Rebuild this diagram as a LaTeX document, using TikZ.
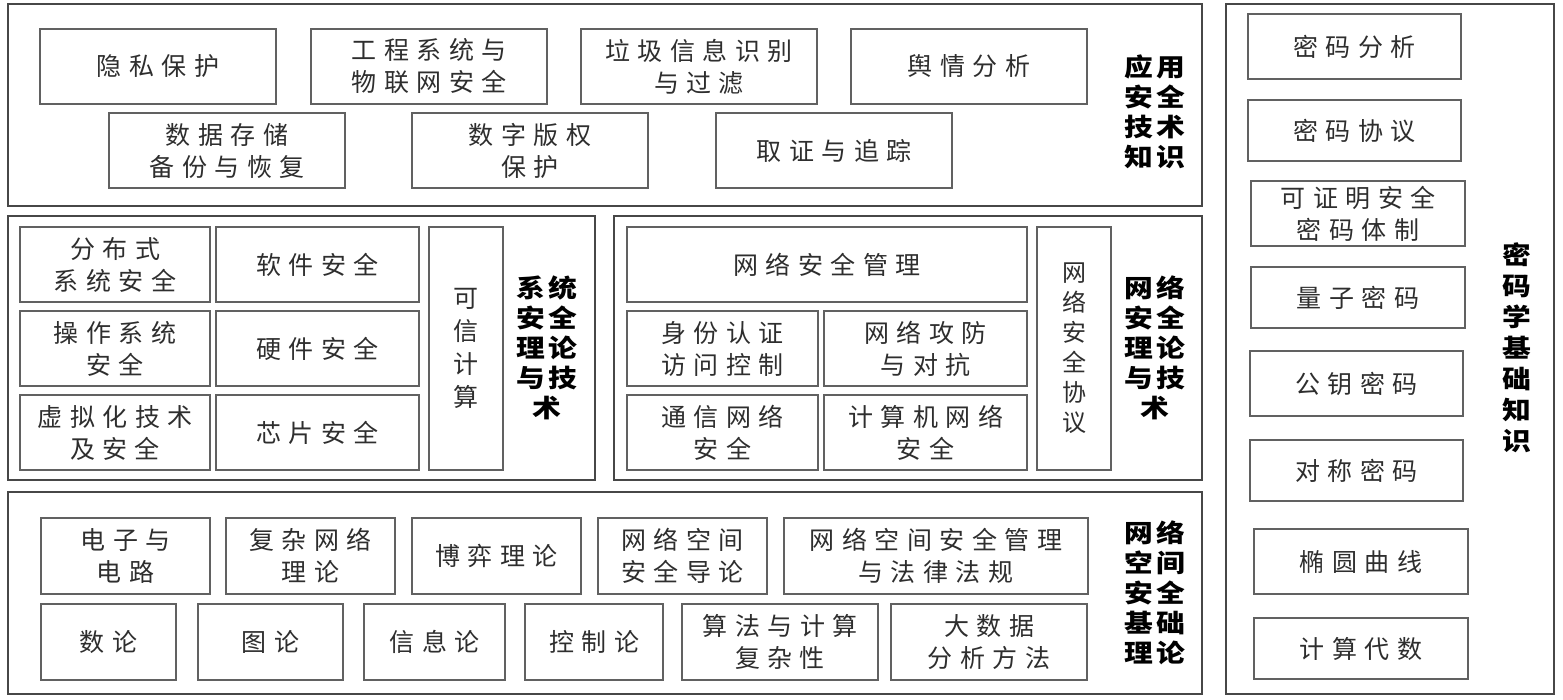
\documentclass[tikz,border=0pt]{standalone}
\usepackage{fontspec}
\setmainfont{Noto Sans CJK SC}[LetterSpace=30]
\newfontfamily\labelfont{Noto Sans CJK SC}[FakeStretch=1.15, LetterSpace=14]
\usepackage{tikz}
\usetikzlibrary{positioning}

\begin{document}
\begin{tikzpicture}[x=1pt, y=-1pt, node distance=34pt,
    main/.style = {draw=black!62, line width=1.5pt, inner sep=0pt, outer sep=0pt, align=center, text=black!82,
                   font=\fontsize{25}{32}\selectfont},
    frame/.style = {draw=black!72, line width=1.8pt},
    title/.style = {align=center, inner sep=0pt, font=\labelfont\fontsize{25}{30}\bfseries\selectfont}]
    \useasboundingbox[fill=white] (0,0) rectangle (1563,699);

    % outer frames
    \draw[frame] (8,4) rectangle (1202,206);
    \draw[frame] (8,216) rectangle (595,480);
    \draw[frame] (614,216) rectangle (1202,480);
    \draw[frame] (8,492) rectangle (1202,694);
    \draw[frame] (1226,4) rectangle (1554,694);

    % application layer
    \node[main, minimum width=236pt, minimum height=75pt] (priv) at (158,66.5) {隐私保护};
    \node[main, minimum width=236pt, minimum height=75pt] (iot) [right=35pt of priv] {工程系统与\\物联网安全};
    \node[main, minimum width=236pt, minimum height=75pt] (spam) [right=of iot] {垃圾信息识别\\与过滤};
    \node[main, minimum width=236pt, minimum height=75pt] (opinion) [right=of spam] {舆情分析};
    \node[main, minimum width=236pt, minimum height=75pt] (backup) at (227,150.5) {数据存储\\备份与恢复};
    \node[main, minimum width=236pt, minimum height=75pt] (drm) [right=67pt of backup] {数字版权\\保护};
    \node[main, minimum width=236pt, minimum height=75pt] (forensic) [right=68pt of drm] {取证与追踪};
    \node[title] (applabel) at (1155,112) {应用\\安全\\技术\\知识};

    % system layer
    \node[main, minimum width=190pt, minimum height=75pt] (dist) at (115,264.5) {分布式\\系统安全};
    \node[main, minimum width=190pt, minimum height=75pt] (os) [below=9pt of dist] {操作系统\\安全};
    \node[main, minimum width=190pt, minimum height=75pt] (virt) [below=9pt of os] {虚拟化技术\\及安全};
    \node[main, minimum width=203pt, minimum height=75pt] (soft) at (317.5,264.5) {软件安全};
    \node[main, minimum width=203pt, minimum height=75pt] (hard) [below=9pt of soft] {硬件安全};
    \node[main, minimum width=203pt, minimum height=75pt] (chip) [below=9pt of hard] {芯片安全};
    \node[main, minimum width=74pt, minimum height=243pt, font=\fontsize{25}{33}\selectfont] (trust) at (466,348.5) {可\\信\\计\\算};
    \node[title] (syslabel) at (547,348) {系统\\安全\\理论\\与技\\术};

    % network layer
    \node[main, minimum width=400pt, minimum height=75pt] (netmgmt) at (827,264.5) {网络安全管理};
    \node[main, minimum width=191pt, minimum height=75pt] (auth) at (722.5,348.5) {身份认证\\访问控制};
    \node[main, minimum width=191pt, minimum height=75pt] (comm) [below=9pt of auth] {通信网络\\安全};
    \node[main, minimum width=203pt, minimum height=75pt] (attack) at (925.5,348.5) {网络攻防\\与对抗};
    \node[main, minimum width=203pt, minimum height=75pt] (compnet) [below=9pt of attack] {计算机网络\\安全};
    \node[main, minimum width=74pt, minimum height=243pt, font=\fontsize{24}{30}\selectfont] (proto) at (1074,348.5) {网\\络\\安\\全\\协\\议};
    \node[title] (netlabel) at (1155,348) {网络\\安全\\理论\\与技\\术};

    % foundation layer
    \node[main, minimum width=169pt, minimum height=76pt] (circuit) at (125.5,556) {电子与\\电路};
    \node[main, minimum width=169pt, minimum height=76pt] (complex) [right=16pt of circuit] {复杂网络\\理论};
    \node[main, minimum width=169pt, minimum height=76pt] (game) [right=17pt of complex] {博弈理论};
    \node[main, minimum width=169pt, minimum height=76pt] (intro) [right=17pt of game] {网络空间\\安全导论};
    \node[main, minimum width=304pt, minimum height=76pt] (law) [right=17pt of intro] {网络空间安全管理\\与法律法规};
    \node[main, minimum width=135pt, minimum height=76pt] (number) at (108.5,642) {数论};
    \node[main, minimum width=145pt, minimum height=76pt] (graph) [right=22pt of number] {图论};
    \node[main, minimum width=141pt, minimum height=76pt] (info) [right=21pt of graph] {信息论};
    \node[main, minimum width=138pt, minimum height=76pt] (control) [right=20pt of info] {控制论};
    \node[main, minimum width=196pt, minimum height=76pt] (algo) [right=19pt of control] {算法与计算\\复杂性};
    \node[main, minimum width=196pt, minimum height=76pt] (bigdata) [right=13pt of algo] {大数据\\分析方法};
    \node[title] (baselabel) at (1155,593) {网络\\空间\\安全\\基础\\理论};

    % cryptography column
    \node[main, minimum width=213pt, minimum height=65pt] (crana) at (1354.5,46.5) {密码分析};
    \node[main, minimum width=213pt, minimum height=61pt] (crproto) at (1354.5,130.5) {密码协议};
    \node[main, minimum width=214pt, minimum height=65pt] (provable) at (1358,213.5) {可证明安全\\密码体制};
    \node[main, minimum width=214pt, minimum height=61pt] (quantum) at (1358,297.5) {量子密码};
    \node[main, minimum width=213pt, minimum height=65pt] (pubkey) at (1356.5,383.5) {公钥密码};
    \node[main, minimum width=213pt, minimum height=61pt] (symkey) at (1356.5,470.5) {对称密码};
    \node[main, minimum width=214pt, minimum height=65pt] (ecc) at (1361,561.5) {椭圆曲线};
    \node[main, minimum width=214pt, minimum height=61pt] (algebra) at (1361,648.5) {计算代数};
    \node[title, font=\labelfont\fontsize{25}{31}\bfseries\selectfont] (crlabel) at (1517,348) {密\\码\\学\\基\\础\\知\\识};
\end{tikzpicture}
\end{document}
